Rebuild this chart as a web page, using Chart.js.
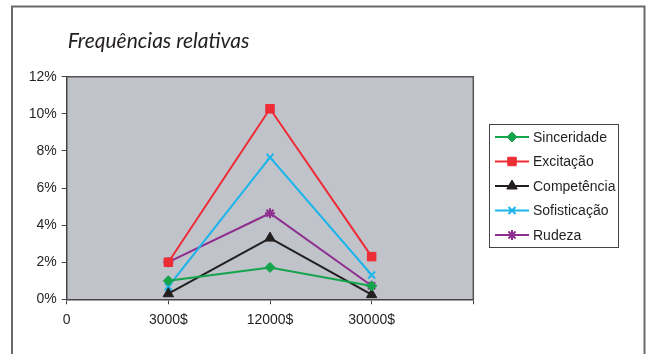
<!DOCTYPE html>
<html>
<head>
<meta charset="utf-8">
<script src="https://cdn.jsdelivr.net/npm/chart.js@4"></script>
<style>
html,body{margin:0;padding:0;background:#fff;}
#wrap{position:relative;width:647px;height:354px;}
</style>
</head>
<body>
<div id="wrap"><canvas id="c" width="647" height="354"></canvas></div>
<script>
const titleText = 'Frequências relativas';
const incomes = ['3000$', '12000$', '30000$'];
const tickLabels = ['0', '3000$', '12000$', '30000$', ''];
const seriesNames = ['Sinceridade', 'Excitação', 'Competência', 'Sofisticação', 'Rudeza'];
const sinceridade = [1.0, 1.72, 0.72];
const excitacao = [2.0, 10.27, 2.3];
const competencia = [0.3, 3.3, 0.25];
const sofisticacao = [0.68, 7.65, 1.31];
const rudeza = [2.0, 4.64, 0.73];
const yTicks = [0, 2, 4, 6, 8, 10, 12];

const colors = ['#14a54b', '#ee2c36', '#231f20', '#1cb5ea', '#8e2f8f'];
const styles = ['rectRot', 'rect', 'triangle', 'crossRot', 'star'];
const radii = [5, 6, 6, 5, 5];
const values = [sinceridade, excitacao, competencia, sofisticacao, rudeza];

const datasets = seriesNames.map((name, i) => ({
  label: name,
  data: [null, ...values[i], null],
  borderColor: colors[i],
  backgroundColor: colors[i],
  pointBackgroundColor: colors[i],
  pointBorderColor: colors[i],
  pointStyle: styles[i],
  pointRadius: radii[i],
  pointBorderWidth: (styles[i] === 'crossRot' || styles[i] === 'star') ? 2 : 1,
  borderWidth: 2,
  tension: 0,
  spanGaps: false,
  clip: false
}));

const framePlugin = {
  id: 'frame',
  beforeDraw(chart) {
    const ctx = chart.ctx;
    const a = chart.chartArea;
    ctx.save();
    ctx.fillStyle = '#fff';
    ctx.fillRect(0, 0, chart.width, chart.height);
    ctx.strokeStyle = '#6a6a6a';
    ctx.lineWidth = 2;
    ctx.beginPath();
    ctx.moveTo(12, 360); ctx.lineTo(12, 6.5); ctx.lineTo(644.5, 6.5); ctx.lineTo(644.5, 360);
    ctx.stroke();
    ctx.fillStyle = '#c0c3ca';
    ctx.fillRect(a.left, a.top, a.right - a.left, a.bottom - a.top);
    ctx.strokeStyle = '#555';
    ctx.lineWidth = 1.5;
    ctx.beginPath();
    ctx.moveTo(a.left, a.top); ctx.lineTo(a.right, a.top); ctx.lineTo(a.right, a.bottom);
    ctx.stroke();
    ctx.fillStyle = '#231f20';
    ctx.font = 'italic 21px Lato, "Open Sans", sans-serif';
    ctx.textBaseline = 'alphabetic';
    ctx.textAlign = 'left';
    ctx.fillText(titleText, a.left + 1, 48);
    ctx.restore();
  },
  afterDraw(chart) {
    const ctx = chart.ctx;
    ctx.save();
    const bx = 489, by = 124, bw = 129, bh = 123;
    ctx.fillStyle = '#fff';
    ctx.fillRect(bx, by, bw, bh);
    ctx.strokeStyle = '#444';
    ctx.lineWidth = 1;
    ctx.strokeRect(bx + 0.5, by + 0.5, bw, bh);
    chart.data.datasets.forEach((ds, i) => {
      const y = 137 + i * 24.5;
      ctx.strokeStyle = ds.borderColor;
      ctx.lineWidth = 2;
      ctx.beginPath();
      ctx.moveTo(495, y); ctx.lineTo(529, y);
      ctx.stroke();
      ctx.fillStyle = ds.pointBackgroundColor;
      ctx.strokeStyle = ds.pointBorderColor;
      ctx.lineWidth = ds.pointBorderWidth;
      Chart.helpers.drawPoint(ctx, {
        pointStyle: ds.pointStyle,
        radius: ds.pointRadius,
        rotation: 0,
        borderWidth: ds.pointBorderWidth
      }, 512, y);
      ctx.fillStyle = '#231f20';
      ctx.font = '14px "Liberation Sans", Arial, sans-serif';
      ctx.textBaseline = 'middle';
      ctx.textAlign = 'left';
      ctx.fillText(ds.label, 533, y + 1);
    });
    ctx.restore();
  }
};

new Chart(document.getElementById('c'), {
  type: 'line',
  data: { labels: tickLabels, datasets },
  options: {
    responsive: false,
    animation: false,
    devicePixelRatio: 1,
    layout: { padding: { left: 20.7, right: 173.7, top: 76.7, bottom: 24.7 } },
    plugins: { legend: { display: false }, title: { display: false }, tooltip: { enabled: false } },
    scales: {
      x: {
        type: 'category',
        offset: false,
        afterFit(s) { s.height = 30; },
        grid: { drawOnChartArea: false, drawTicks: true, tickLength: 5, color: '#444', tickWidth: 1 },
        border: { display: true, color: '#444', width: 1.5 },
        ticks: { color: '#231f20', font: { family: '"Liberation Sans", Arial, sans-serif', size: 14 }, padding: 7, maxRotation: 0, autoSkip: false }
      },
      y: {
        min: 0, max: 12,
        afterFit(s) { s.width = 46; },
        afterBuildTicks(s) { s.ticks = yTicks.map(v => ({ value: v })); },
        grid: { drawOnChartArea: false, drawTicks: true, tickLength: 5, color: '#444', tickWidth: 1 },
        border: { display: true, color: '#444', width: 1.5 },
        ticks: { color: '#231f20', font: { family: '"Liberation Sans", Arial, sans-serif', size: 14 }, padding: 5, callback: v => v + '%' }
      }
    }
  },
  plugins: [framePlugin]
});
</script>
</body>
</html>
